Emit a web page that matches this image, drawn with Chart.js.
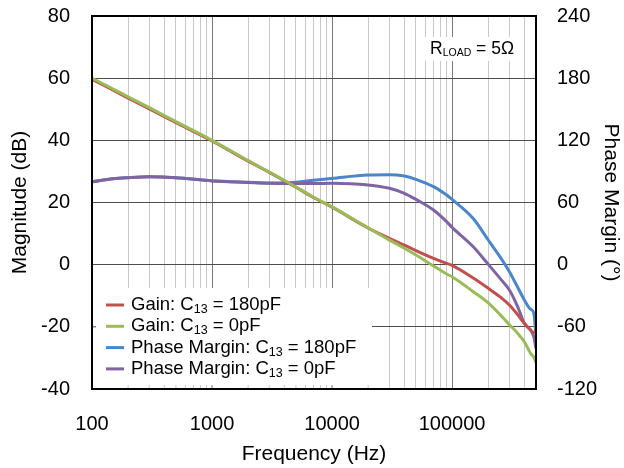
<!DOCTYPE html>
<html>
<head>
<meta charset="utf-8">
<script src="https://cdn.jsdelivr.net/npm/chart.js@4.4.1/dist/chart.umd.min.js"></script>
<style>
  html, body { margin: 0; padding: 0; background: #fff; }
</style>
</head>
<body>
<canvas id="chart" width="624" height="468"></canvas>
<script>
// frequency points (Hz)
const freq = [100, 150, 200, 300, 500, 1000, 2000, 3000, 5000, 7000, 10000, 20000, 30000, 40000, 50000,
  70000, 90000, 100000, 150000, 200000, 250000, 300000, 350000, 400000, 450000, 480000, 500000];

// magnitude, dB
const gain180 = [59.6, 56.1, 53.6, 50.1, 45.7, 39.8, 33.3, 29.7, 24.9, 21.6, 18.5, 11.8, 8.5, 6.3, 4.5,
  2.0, 0.4, -0.2, -4.3, -7.6, -10.3, -13.0, -16.0, -18.9, -21.0, -21.8, -21.3];
const gain0 = [60, 56.5, 54, 50.5, 46, 40, 33.5, 29.8, 25.0, 21.7, 18.6, 11.8, 7.9, 5.3, 3.1,
  -0.4, -3.0, -3.9, -8.7, -12.3, -16.0, -19.3, -22.0, -24.8, -28.5, -29.8, -31.5];

// phase margin, degrees
const phase180 = [80, 83, 84, 84.8, 84, 81, 79.5, 78.8, 79.5, 81.5, 83.3, 86.5, 86.8, 85.6, 82.4,
  75.3, 67.2, 63, 44.5, 23.8, 7.7, -6.8, -21.3, -34, -43, -47, -69];
const phase0 = [80, 83, 84, 84.8, 84, 80.8, 79.3, 78.5, 78.3, 78.3, 78.5, 76.9, 73.7, 68.9, 63,
  52.7, 41.5, 36, 17.3, 0.4, -13, -24.5, -40, -56.6, -63, -70, -81];

const majorTicks = [100, 1000, 10000, 100000];
const magTicks = [-40, -20, 0, 20, 40, 60, 80];
const phaseTicks = [-120, -60, 0, 60, 120, 180, 240];

const FONT = "'Liberation Sans', Arial, sans-serif";
const RED = "#c0504d";
const GREEN = "#9bbb59";
const BLUE = "#4a86c8";
const PURPLE = "#8064a2";

// gridline positions: 1..9 per decade
const gridFreqs = [];
majorTicks.forEach(function(d) {
  for (let m = 1; m <= 9; m++) {
    if (d * m <= 500000) gridFreqs.push(d * m);
  }
});

function pts(ys) {
  return freq.map(function(f, i) { return { x: f, y: ys[i] }; });
}

function drawRich(ctx, text, x, y, size, subSize) {
  const parts = text.split("_");
  parts.forEach(function(p, i) {
    const sub = i % 2 === 1;
    ctx.font = (sub ? subSize : size) + "px " + FONT;
    ctx.fillText(p, x, sub ? y + size * 0.25 : y);
    x += ctx.measureText(p).width;
  });
}

function noPad(scale) {
  scale.paddingTop = 0;
  scale.paddingBottom = 0;
  scale.paddingLeft = 0;
  scale.paddingRight = 0;
}

const overlay = {
  id: "overlay",
  afterDatasetsDraw: function(chart) {
    const ctx = chart.ctx;
    const a = chart.chartArea;
    const xs = chart.scales.x;
    ctx.save();

    // legend box
    ctx.fillStyle = "#fff";
    ctx.fillRect(a.left, 288, 280, a.bottom - 288);
    // small inward ticks along the bottom
    gridFreqs.forEach(function(f) {
      const px = xs.getPixelForValue(f);
      if (px > a.left + 2 && px < a.left + 280) {
        ctx.strokeStyle = majorTicks.includes(f) ? "#7a7a7a" : "#c8c8c8";
        ctx.lineWidth = 1;
        ctx.beginPath();
        ctx.moveTo(px, a.bottom - 4);
        ctx.lineTo(px, a.bottom);
        ctx.stroke();
      }
    });
    ctx.strokeStyle = "#4d4d4d";
    ctx.beginPath();
    const ty = chart.scales.y.getPixelForValue(-20);
    ctx.moveTo(a.left, ty);
    ctx.lineTo(a.left + 4, ty);
    ctx.stroke();

    ctx.textBaseline = "middle";
    ctx.textAlign = "left";
    chart.data.datasets.forEach(function(ds, i) {
      const y = 305 + i * 21.3;
      ctx.strokeStyle = ds.borderColor;
      ctx.lineWidth = 3;
      ctx.beginPath();
      ctx.moveTo(106, y);
      ctx.lineTo(124, y);
      ctx.stroke();
      ctx.fillStyle = "#000";
      drawRich(ctx, ds.label, 131, y, 18.5, 12.5);
    });

    // load annotation
    ctx.fillStyle = "#fff";
    ctx.fillRect(425, 37, 97, 24);
    ctx.fillStyle = "#000";
    drawRich(ctx, "R_LOAD_ = 5\u03a9", 430, 49, 17.5, 10.5);

    // plot border
    ctx.strokeStyle = "#000";
    ctx.lineWidth = 2;
    ctx.strokeRect(a.left, a.top, a.right - a.left, a.bottom - a.top);
    ctx.restore();
  }
};

new Chart(document.getElementById("chart"), {
  type: "line",
  data: {
    datasets: [
      { label: "Gain: C_13_ = 180pF", data: pts(gain180), borderColor: RED, yAxisID: "y", order: 1 },
      { label: "Gain: C_13_ = 0pF", data: pts(gain0), borderColor: GREEN, yAxisID: "y", order: 0 },
      { label: "Phase Margin: C_13_ = 180pF", data: pts(phase180), borderColor: BLUE, yAxisID: "y2", order: 3 },
      { label: "Phase Margin: C_13_ = 0pF", data: pts(phase0), borderColor: PURPLE, yAxisID: "y2", order: 2 }
    ]
  },
  options: {
    responsive: false,
    animation: false,
    devicePixelRatio: 1,
    layout: { padding: { top: 16, left: 0, right: 0, bottom: 0 } },
    elements: {
      point: { radius: 0 },
      line: { borderWidth: 3, cubicInterpolationMode: "monotone", fill: false }
    },
    plugins: {
      legend: { display: false },
      tooltip: { enabled: false }
    },
    scales: {
      x: {
        type: "logarithmic",
        min: 100,
        max: 500000,
        afterBuildTicks: function(scale) {
          scale.ticks = gridFreqs.map(function(v) { return { value: v }; });
        },
        afterFit: function(scale) { scale.height = 79; noPad(scale); },
        grid: {
          drawTicks: false,
          color: function(c) {
            return c.tick && majorTicks.includes(c.tick.value) ? "#7a7a7a" : "#c8c8c8";
          }
        },
        border: { display: false },
        ticks: {
          autoSkip: false,
          maxRotation: 0,
          padding: 23,
          color: "#000",
          font: { family: FONT, size: 20 },
          callback: function(v) { return majorTicks.includes(v) ? String(v) : ""; }
        },
        title: {
          display: true,
          text: "Frequency (Hz)",
          color: "#000",
          font: { family: FONT, size: 21 },
          padding: { top: 0, bottom: 1 }
        }
      },
      y: {
        position: "left",
        min: -40,
        max: 80,
        afterBuildTicks: function(scale) {
          scale.ticks = magTicks.map(function(v) { return { value: v }; });
        },
        afterFit: function(scale) { scale.width = 92; noPad(scale); },
        grid: { drawTicks: false, color: "#4d4d4d" },
        border: { display: false },
        ticks: { padding: 22, color: "#000", font: { family: FONT, size: 20 } },
        title: {
          display: true,
          text: "Magnitude (dB)",
          color: "#000",
          font: { family: FONT, size: 21 },
          padding: { top: 8, bottom: 0 }
        }
      },
      y2: {
        position: "right",
        min: -120,
        max: 240,
        afterBuildTicks: function(scale) {
          scale.ticks = phaseTicks.map(function(v) { return { value: v }; });
        },
        afterFit: function(scale) { scale.width = 88; noPad(scale); },
        grid: { display: false, drawTicks: false },
        border: { display: false },
        ticks: { padding: 21, color: "#000", font: { family: FONT, size: 20 } },
        title: {
          display: true,
          text: "Phase Margin (\u00b0)",
          color: "#000",
          font: { family: FONT, size: 21 },
          padding: { top: 1, bottom: 0 }
        }
      }
    }
  },
  plugins: [overlay]
});
</script>
</body>
</html>
